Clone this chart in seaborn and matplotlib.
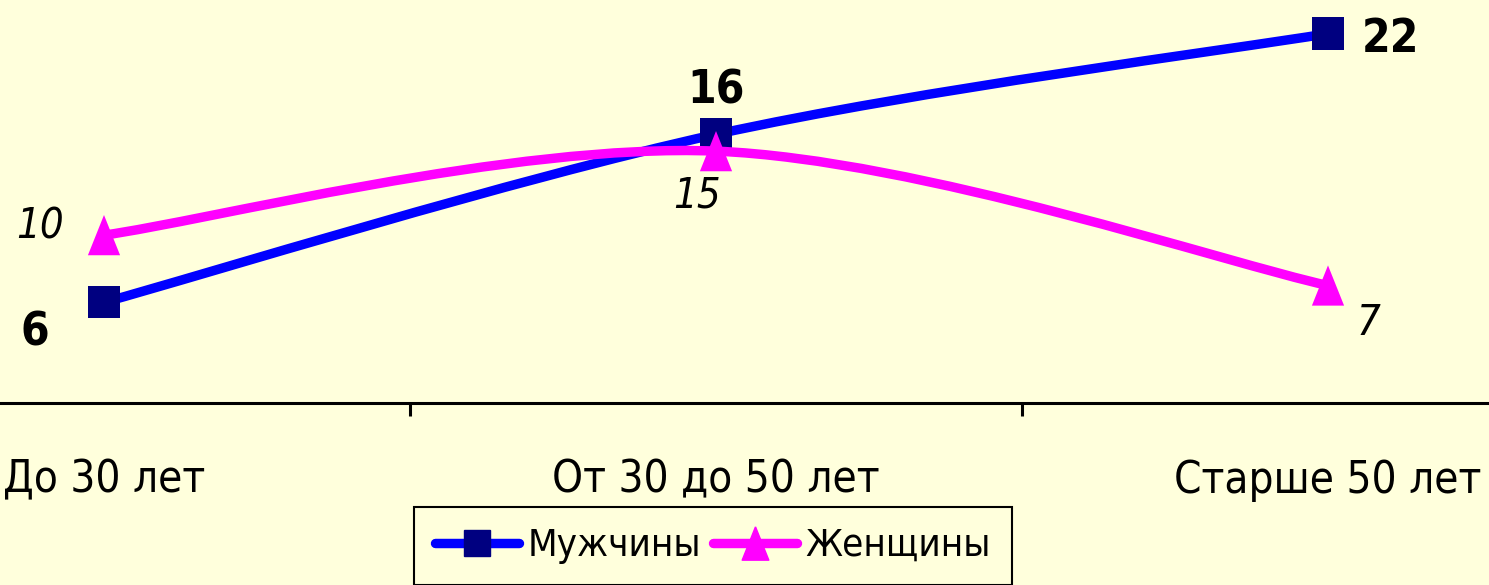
import numpy as np
import pandas as pd
import matplotlib
matplotlib.use("Agg")
import matplotlib.pyplot as plt
import seaborn as sns
from matplotlib.path import Path
from matplotlib.patches import PathPatch
from matplotlib.lines import Line2D

# данные
categories = ["До 30 лет", "От 30 до 50 лет", "Старше 50 лет"]
men = [6, 16, 22]
women = [10, 15, 7]
series_names = ["Мужчины", "Женщины"]

bg = "#FFFFDC"
sns.set_theme(style="white")
plt.rcParams['font.family'] = ['DejaVu Sans']
plt.rcParams['font.stretch'] = 'condensed'

df = pd.DataFrame({
    "pos": list(range(len(categories))) * 2,
    "value": men + women,
    "series": [series_names[0]] * 3 + [series_names[1]] * 3,
})

fig = plt.figure(figsize=(14.89, 5.85), dpi=100, facecolor=bg)
ax = fig.add_axes([0, 0.311, 1, 0.689])
ax.set_facecolor(bg)


# сглаженная линия (как "сглаживание" в Excel)
def smooth_path(xs, ys):
    pts = np.column_stack([xs, ys]).astype(float)
    ext = np.vstack([pts[0], pts, pts[-1]])
    verts = [pts[0]]
    codes = [Path.MOVETO]
    for i in range(len(pts) - 1):
        p0, p1, p2, p3 = ext[i], ext[i + 1], ext[i + 2], ext[i + 3]
        verts += [p1 + (p2 - p0) / 6, p2 - (p3 - p1) / 6, p2]
        codes += [Path.CURVE4] * 3
    return Path(verts, codes)


tri = Path([(0, 1), (-0.8, -1), (0.8, -1), (0, 1)])
lw = 6.8
styles = {
    series_names[0]: dict(line="#0000FF", mark="#000080", marker="s", s=540),
    series_names[1]: dict(line="#FF00FF", mark="#FF00FF", marker=tri, s=840),
}

z = 2
for name in series_names:
    sub = df[df.series == name]
    st = styles[name]
    ax.add_patch(PathPatch(smooth_path(sub.pos, sub.value), fill=False,
                           edgecolor=st["line"], lw=lw, capstyle="round", zorder=z))
    sns.scatterplot(data=sub, x="pos", y="value", marker=st["marker"], s=st["s"],
                    color=st["mark"], edgecolor="none", legend=False, ax=ax, zorder=z + 1)
    z += 2

# подписи значений
bold_kw = dict(fontsize=33, fontweight="bold", ha="center", va="center",
               textcoords="offset points", color="black")
ital_kw = dict(fontsize=30, fontstyle="italic", ha="center", va="center",
               textcoords="offset points", color="black")
men_off = [(-50, -22), (0, 31), (45, -4)]
women_off = [(-46, 6), (-14, -32), (29, -27)]
for i in range(3):
    ax.annotate(str(men[i]), (i, men[i]), xytext=men_off[i], **bold_kw)
    ax.annotate(str(women[i]), (i, women[i]), xytext=women_off[i], **ital_kw)

ax.set_xlim(-104 / 612, (1489 - 104) / 612)
ax.set_ylim(0, 24)
ax.set_xlabel("")
ax.set_ylabel("")
ax.set_yticks([])
ax.set_xticks(range(len(categories)))
ax.set_xticklabels(categories)
ax.set_xticks([0.5, 1.5], minor=True)
ax.tick_params(axis="x", which="major", length=0, pad=40, labelsize=31.5, colors="black")
ax.tick_params(axis="x", which="minor", bottom=True, length=9.5, width=2.2,
               direction="out", color="black")
for s in ["top", "left", "right"]:
    ax.spines[s].set_visible(False)
ax.spines["bottom"].set_color("black")
ax.spines["bottom"].set_linewidth(2.2)

handles = [
    Line2D([], [], color="#0000FF", lw=lw, marker="s", markersize=19,
           markerfacecolor="#000080", markeredgecolor="#000080", solid_capstyle="round"),
    Line2D([], [], color="#FF00FF", lw=lw, marker=tri, markersize=24,
           markerfacecolor="#FF00FF", markeredgecolor="#FF00FF", solid_capstyle="round"),
]
leg = fig.legend(handles, series_names, loc="upper center",
                 bbox_to_anchor=(713 / 1489, 1 - 507 / 585), ncol=2, fontsize=27.5,
                 frameon=True, fancybox=False, facecolor=bg, edgecolor="black",
                 framealpha=1, handlelength=2.2, handletextpad=0.2,
                 columnspacing=0.33, borderpad=0.55, borderaxespad=0,
                 labelcolor="black")
leg.get_frame().set_linewidth(1.5)

fig.savefig("out.png", dpi=100, facecolor=bg)
